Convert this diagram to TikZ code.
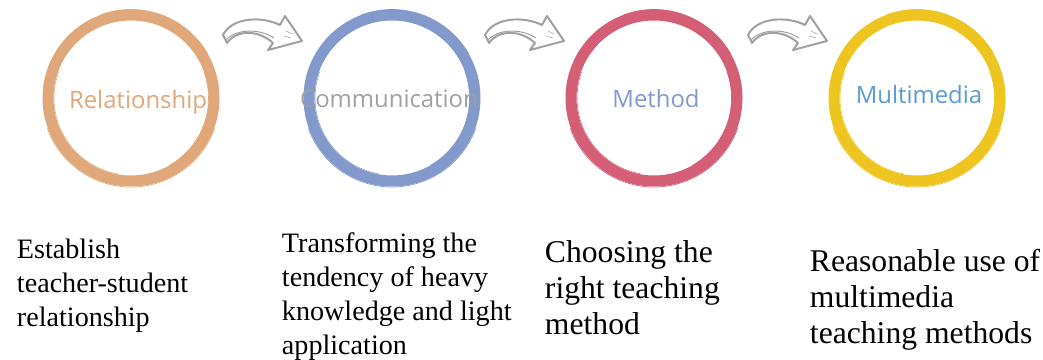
\documentclass[tikz,border=0pt]{standalone}
\usepackage{fontspec}
\setmainfont{Liberation Serif}
\setsansfont{Open Sans}
\usetikzlibrary{calc}

\definecolor{ringorange}{RGB}{224,168,122}
\definecolor{ringblue}{RGB}{131,153,204}
\definecolor{ringred}{RGB}{212,94,118}
\definecolor{ringyellow}{RGB}{238,196,32}
\definecolor{arrowgray}{RGB}{160,160,160}
\definecolor{textgray}{RGB}{160,160,160}
\definecolor{textblue}{RGB}{91,155,213}

\tikzset{
  brushring/.pic={
    \draw[line width=0.275cm] (0,0) circle[radius=83];
    \draw[line width=0.5pt] (0,0) ++(160:89) arc (160:20:89);
    \draw[line width=0.5pt] (0,0) ++(250:88.5) arc (250:330:88.5);
    \draw[line width=0.4pt] (0,0) ++(100:77) arc (100:200:77);
    \draw[line width=0.4pt] (0,0) ++(-20:77.5) arc (-20:60:77.5);
  },
  bentarrow/.pic={
    \draw[arrowgray, line width=1.4pt, line join=round, fill=white]
      (-39,2) .. controls (-30,-16) and (0,-17) .. (18,-8) -- (23,-17) -- (40,8)
      -- (6,17) -- (11,10) .. controls (-3,-3) and (-25,-4) .. (-35,10) -- cycle;
    \draw[arrowgray, line width=0.7pt] (-36,7) .. controls (-26,-4) and (-3,-5) .. (12,5);
    \draw[arrowgray, line width=0.4pt] (24,-2) -- (30,1) (22,3) -- (29,5);
  },
  ringlabel/.style={font=\sffamily\fontsize{17}{20}\selectfont, anchor=base},
  notetext/.style={align=left, anchor=base west, font=\fontsize{20}{24}\selectfont},
  bignote/.style={align=left, anchor=base west, font=\fontsize{22.5}{25.5}\selectfont}
}

\begin{document}
\begin{tikzpicture}[x=0.025cm,y=-0.025cm]

		\useasboundingbox (0,0) rectangle (1043,360);

		% Ring centres
		\coordinate (c1) at (131,98);
		\coordinate (c2) at (392,98);
		\coordinate (c3) at (654,98);
		\coordinate (c4) at (917,98);

		% Arrows between rings
		\coordinate (a1) at (262,33);
		\coordinate (a2) at (524,33);
		\coordinate (a3) at (787,33);

		% rings
		\pic[ringorange] at (c1) {brushring};
		\pic[ringblue] at (c2) {brushring};
		\pic[ringred] at (c3) {brushring};
		\pic[ringyellow] at (c4) {brushring};

		\pic at (a1) {bentarrow};
		\pic at (a2) {bentarrow};
		\pic at (a3) {bentarrow};

		% ring labels
		\node[ringlabel, ringorange] (rel) at (138,109) {Relationship};
		\node[ringlabel, textgray] (com) at (389,108) {Communication};
		\node[ringlabel, ringblue] (met) at (656,108) {Method};
		\node[ringlabel, textblue] (mul) at (919,104) {Multimedia};

		% notes (anchored on the last line)
		\node[notetext] (relnote) at (12,326) {Establish\\teacher-student\\relationship};
		\node[notetext] (comnote) at (277,354) {Transforming the\\tendency of heavy\\knowledge and light\\application};
		\node[bignote] (metnote) at (540,334) {Choosing the\\right teaching\\method};
		\node[bignote] (mulnote) at (805,343) {Reasonable use of\\multimedia\\teaching methods};

	\end{tikzpicture}
\end{document}
